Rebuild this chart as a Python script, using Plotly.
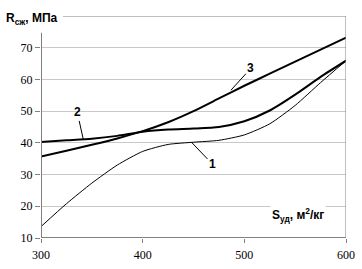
import plotly.graph_objects as go

x_vals = [300, 325, 350, 375, 400, 425, 450, 475, 500, 525, 550, 575, 600]
curve1 = [13.6, 20.8, 27.3, 33.0, 37.3, 39.5, 40.2, 40.8, 42.5, 46.0, 51.8, 59.0, 65.9]
curve2 = [40.3, 40.8, 41.3, 42.2, 43.5, 44.2, 44.5, 45.0, 46.8, 50.2, 55.2, 60.8, 65.9]
curve3 = [35.7, 37.5, 39.4, 41.4, 43.7, 46.5, 50.0, 54.0, 58.0, 61.8, 65.6, 69.4, 73.2]
x_ticks = [300, 400, 500, 600]
y_ticks = [10, 20, 30, 40, 50, 60, 70]

fig = go.Figure()
for ys, w in [(curve1, 1), (curve2, 2), (curve3, 2)]:
    fig.add_trace(go.Scatter(x=x_vals, y=ys, mode="lines",
                             line=dict(color="black", width=w, shape="spline", smoothing=0.6),
                             showlegend=False, hoverinfo="skip"))

gray = "#808080"
fig.add_shape(type="line", xref="x", yref="y", x0=300, x1=300, y0=10, y1=74.7,
              line=dict(color=gray, width=2), layer="above")
fig.add_shape(type="line", xref="x", yref="y", x0=300, x1=600, y0=10, y1=10,
              line=dict(color=gray, width=2), layer="above")
fig.add_shape(type="line", xref="x", yref="y", x0=321.6, x1=600, y0=80, y1=80,
              line=dict(color=gray, width=1), layer="above")
fig.add_shape(type="line", xref="x", yref="y", x0=600, x1=600, y0=10, y1=80,
              line=dict(color=gray, width=1), layer="above")

lab_font = dict(family="Liberation Sans, Arial", size=12, color="black")
bold = lambda t: "<b>" + t + "</b>"
fig.add_annotation(x=448, y=40.2, xref="x", yref="y", text=bold("1"), showarrow=True,
                   arrowhead=0, arrowwidth=1, arrowcolor="black", ax=21, ay=22, font=lab_font)
fig.add_annotation(x=341.6, y=41.1, xref="x", yref="y", text=bold("2"), showarrow=True,
                   arrowhead=0, arrowwidth=1, arrowcolor="black", ax=-6, ay=-27, font=lab_font)
fig.add_annotation(x=486.8, y=56.6, xref="x", yref="y", text=bold("3"), showarrow=True,
                   arrowhead=0, arrowwidth=1, arrowcolor="black", ax=20, ay=-22, font=lab_font)

fig.add_annotation(x=-0.121, y=0.986, xref="paper", yref="paper", xanchor="left", yanchor="middle",
                   text=bold("R<sub>сж</sub>, МПа"), showarrow=False,
                   font=dict(family="Liberation Sans, Arial", size=12, color="black"))
fig.add_annotation(x=553, y=17.3, xref="x", yref="y", xanchor="center", yanchor="middle",
                   text=bold("S<sub>уд</sub>, м<sup>2</sup>/кг"), showarrow=False, bgcolor="white",
                   font=dict(family="Liberation Sans, Arial", size=12, color="black"))

fig.update_xaxes(range=[300, 600], tickvals=x_ticks, ticks="outside", ticklen=4, tickcolor=gray,
                 showgrid=False, zeroline=False, showline=False, ticklabelstandoff=2,
                 automargin=False,
                 tickfont=dict(family="Liberation Serif, Times New Roman", size=12, color="black"))
fig.update_yaxes(range=[10, 80], tickvals=y_ticks, ticks="outside", ticklen=5, tickcolor=gray,
                 showgrid=True, gridcolor="#c8c8c8", gridwidth=1, zeroline=False, showline=False,
                 automargin=False,
                 tickfont=dict(family="Liberation Serif, Times New Roman", size=12, color="black"))

fig.update_layout(width=362, height=269, margin=dict(l=41, r=16, t=16, b=31),
                  plot_bgcolor="white", paper_bgcolor="white")
fig.write_html("out.html", config={"displayModeBar": False},
               post_script="document.body.style.margin='0';")
